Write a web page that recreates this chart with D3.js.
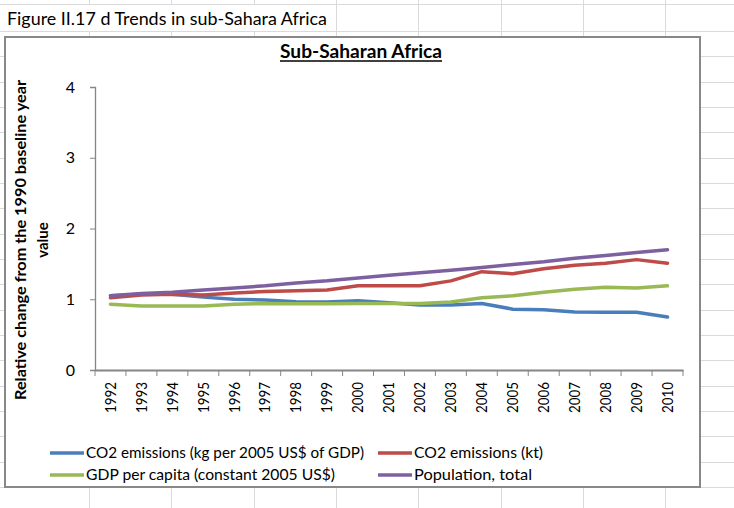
<!DOCTYPE html>
<html><head><meta charset="utf-8">
<script src="https://cdn.jsdelivr.net/npm/d3@7"></script>
<style>body{margin:0;background:#fff}svg{display:block}</style>
</head><body>
<script>
const years = ["1992","1993","1994","1995","1996","1997","1998","1999","2000","2001","2002","2003","2004","2005","2006","2007","2008","2009","2010"];
const co2Intensity = [1.05,1.07,1.07,1.03,1.00,0.99,0.965,0.96,0.98,0.95,0.92,0.92,0.94,0.86,0.85,0.82,0.815,0.815,0.75];
const co2Kt = [1.02,1.06,1.07,1.06,1.09,1.11,1.12,1.13,1.19,1.19,1.19,1.26,1.39,1.36,1.43,1.48,1.51,1.56,1.51];
const gdpPerCapita = [0.93,0.905,0.905,0.905,0.93,0.94,0.935,0.935,0.94,0.94,0.94,0.96,1.02,1.05,1.10,1.14,1.17,1.16,1.19];
const population = [1.05,1.08,1.10,1.13,1.16,1.19,1.23,1.26,1.30,1.34,1.375,1.41,1.45,1.49,1.53,1.58,1.62,1.66,1.70];
const seriesNames = ["CO2 emissions (kg per 2005 US$ of GDP)","CO2 emissions (kt)","GDP per capita (constant 2005 US$)","Population, total"];
const yTicks = [0,1,2,3,4];

const W=734,H=508;
const font="Lato, 'Open Sans', sans-serif";
const svg=d3.select("body").append("svg").attr("width",W).attr("height",H);

// spreadsheet grid
const grid=svg.append("g").attr("stroke","#dadada").attr("stroke-width",1);
const rowYs=[4,31]; for(let y=31+25.33;y<H;y+=25.33) rowYs.push(y);
rowYs.forEach(y=>grid.append("line").attr("x1",0).attr("x2",W).attr("y1",Math.round(y)+0.5).attr("y2",Math.round(y)+0.5));
const colXs=[]; for(let x=89;x<W;x+=82.3) colXs.push(x);
colXs.forEach(x=>{
  const xx=Math.round(x)+0.5;
  if(x<330){
    grid.append("line").attr("x1",xx).attr("x2",xx).attr("y1",0).attr("y2",4);
    grid.append("line").attr("x1",xx).attr("x2",xx).attr("y1",31).attr("y2",H);
  } else grid.append("line").attr("x1",xx).attr("x2",xx).attr("y1",0).attr("y2",H);
});
svg.append("text").attr("x",7).attr("y",25).attr("font-family",font).attr("font-size",17)
  .attr("textLength",320).attr("lengthAdjust","spacingAndGlyphs").attr("fill","#000")
  .text("Figure II.17 d Trends in sub-Sahara Africa");

// chart box
svg.append("rect").attr("x",6).attr("y",38).attr("width",695).attr("height",450).attr("fill","#bbb").attr("opacity",0.5);
svg.append("rect").attr("x",5).attr("y",37).attr("width",695).attr("height",450).attr("fill","#fff").attr("stroke","#888").attr("stroke-width",2);

// title
svg.append("text").attr("x",361).attr("y",58).attr("text-anchor","middle").attr("font-family",font)
  .attr("font-weight","bold").attr("font-size",18).attr("textLength",162).attr("lengthAdjust","spacingAndGlyphs")
  .text("Sub-Saharan Africa");
svg.append("line").attr("x1",280).attr("x2",442).attr("y1",61).attr("y2",61).attr("stroke","#000").attr("stroke-width",1.4);

// scales
const x=d3.scaleBand().domain(years).range([95,683]).paddingInner(0).paddingOuter(0);
const y=d3.scaleLinear().domain([0,4]).range([370,87]);
const axisColor="#868686";

// y axis
const ya=svg.append("g").attr("transform","translate(95,0)").call(d3.axisLeft(y).tickValues(yTicks).tickSize(5).tickPadding(15).tickFormat(d3.format("d")));
ya.select(".domain").attr("stroke",axisColor).attr("stroke-width",1.3);
ya.selectAll(".tick line").attr("stroke",axisColor);
ya.selectAll("text").attr("font-family",font).attr("font-size",16).attr("fill","#000");

// x axis
const xa=svg.append("g").attr("transform","translate(0,370)").call(d3.axisBottom(x).tickSize(0).tickPadding(0));
xa.select(".domain").attr("stroke",axisColor).attr("stroke-width",2);
xa.selectAll(".tick text").attr("font-family",font).attr("font-size",15).attr("fill","#000")
  .attr("transform","rotate(-90)").attr("text-anchor","end").attr("dx","-12").attr("dy","0.35em").attr("x",0).attr("y",0)
  .attr("textLength",31).attr("lengthAdjust","spacingAndGlyphs");
const bounds=years.map(d=>x(d)).concat([x(years[years.length-1])+x.bandwidth()]);
svg.append("g").selectAll("line").data(bounds).join("line")
  .attr("x1",d=>d).attr("x2",d=>d).attr("y1",370).attr("y2",376).attr("stroke",axisColor).attr("stroke-width",1);

// y title
const yt=svg.append("g").attr("font-family",font).attr("font-weight","bold").attr("font-size",15).attr("fill","#000");
yt.append("text").attr("transform","translate(26,240) rotate(-90)").attr("text-anchor","middle")
  .attr("textLength",320).attr("lengthAdjust","spacingAndGlyphs").text("Relative change from the 1990 baseline year");
yt.append("text").attr("transform","translate(48,240) rotate(-90)").attr("text-anchor","middle").text("value");

// lines
const colors=["#4a7ebb","#be4b48","#98b954","#7d60a0"];
const allSeries=[co2Intensity,co2Kt,gdpPerCapita,population];
const line=d3.line().x((d,i)=>x(years[i])+x.bandwidth()/2).y(d=>y(d));
const drawOrder=[0,2,1,3];
drawOrder.forEach(k=>{
  svg.append("path").datum(allSeries[k]).attr("d",line).attr("fill","none").attr("stroke",colors[k])
    .attr("stroke-width",3.5).attr("stroke-linejoin","round").attr("stroke-linecap","round");
});

// legend
const legPos=[[50,453],[378,453],[50,475],[378,475]];
const legLen=[278,129,249,118];
seriesNames.forEach((n,k)=>{
  const [lx,ly]=legPos[k];
  svg.append("line").attr("x1",lx).attr("x2",lx+34).attr("y1",ly).attr("y2",ly).attr("stroke",colors[k]).attr("stroke-width",3.5);
  svg.append("text").attr("x",lx+36).attr("y",ly+5).attr("font-family",font).attr("font-size",15).attr("fill","#000")
    .attr("textLength",legLen[k]).attr("lengthAdjust","spacingAndGlyphs").text(n);
});
</script>
</body></html>
